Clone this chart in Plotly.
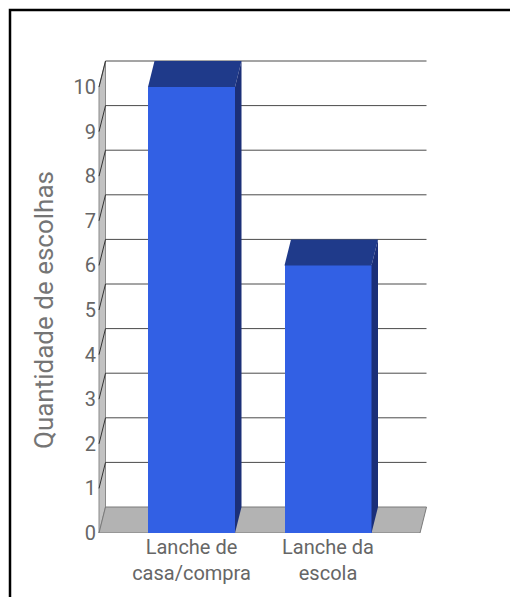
import plotly.graph_objects as go

# ---- data ----
categories = ["Lanche de<br>casa/compra", "Lanche da<br>escola"]
values = [10, 6]
y_ticks = list(range(0, 11))
y_title = "Quantidade de escolhas"

# ---- layout geometry ----
W_PX, H_PX = 510, 597
L, R, T, B = 97, 80, 50, 64
plot_w = W_PX - L - R
plot_h = H_PX - T - B
px_per_unit_y = 44.6
px_per_cat = 136.5
first_center_px = 191.5
y_range = [0, plot_h / px_per_unit_y]
x_min = -(first_center_px - L) / px_per_cat
x_range = [x_min, x_min + plot_w / px_per_cat]
dx = 6.5 / px_per_cat          # depth offset (x, category units)
dy = 26 / px_per_unit_y        # depth offset (y, value units)
bar_w = 87 / px_per_cat
front_left = x_min + 2 / px_per_cat
front_right = (420 - first_center_px) / px_per_cat

FRONT = "#3260E4"
TOP = "#1F3A8A"
SIDE = "#1B2F78"
FONT = "Roboto"

positions = list(range(len(categories)))
top_tick = max(y_ticks)

fig = go.Figure()

# front faces of bars
fig.add_trace(go.Bar(x=positions, y=values, width=bar_w,
                     marker=dict(color=FRONT, line=dict(width=0)),
                     hoverinfo="skip", showlegend=False))

# top and side faces
for p, v in zip(positions, values):
    xl, xr = p - bar_w / 2, p + bar_w / 2
    fig.add_trace(go.Scatter(
        x=[xl, xr, xr + dx, xl + dx, xl],
        y=[v, v, v + dy, v + dy, v],
        mode="lines", fill="toself", fillcolor=TOP,
        line=dict(width=0, color=TOP), hoverinfo="skip", showlegend=False))
    fig.add_trace(go.Scatter(
        x=[xr, xr + dx, xr + dx, xr, xr],
        y=[0, dy, v + dy, v, 0],
        mode="lines", fill="toself", fillcolor=SIDE,
        line=dict(width=0, color=SIDE), hoverinfo="skip", showlegend=False))

shapes = []
# left wall
shapes.append(dict(
    type="path", xref="x", yref="y", layer="below",
    path=(f"M {front_left},0 L {front_left},{top_tick} "
          f"L {front_left+dx},{top_tick+dy} L {front_left+dx},{dy} Z"),
    fillcolor="#c2c2c2", line=dict(color="#8a8a8a", width=1)))
# floor
shapes.append(dict(
    type="path", xref="x", yref="y", layer="below",
    path=(f"M {front_left},0 L {front_right},0 "
          f"L {front_right+dx},{dy} L {front_left+dx},{dy} Z"),
    fillcolor="#b3b3b3", line=dict(color="#7a7a7a", width=1)))
# back-wall gridlines and wall slants
for v in y_ticks[1:]:
    shapes.append(dict(type="line", xref="x", yref="y", layer="below",
                       x0=front_left + dx, x1=front_right + dx,
                       y0=v + dy, y1=v + dy,
                       line=dict(color="#4a4a4a", width=1)))
    shapes.append(dict(type="line", xref="x", yref="y", layer="below",
                       x0=front_left, x1=front_left + dx,
                       y0=v, y1=v + dy,
                       line=dict(color="#333333", width=1)))
# outer frame
shapes.append(dict(type="rect", xref="paper", yref="paper",
                   x0=(10 - L) / plot_w, x1=(530 - L) / plot_w,
                   y0=1 - (620 - T) / plot_h, y1=1 - (10 - T) / plot_h,
                   line=dict(color="black", width=2.5), fillcolor="rgba(0,0,0,0)"))

# y-axis title, centred on the value span of the axis
title_x_px = 44
title_y_val = top_tick / 2

fig.update_layout(
    width=W_PX, height=H_PX,
    margin=dict(l=L, r=R, t=T, b=B, pad=0),
    paper_bgcolor="white", plot_bgcolor="white",
    font=dict(family=FONT, color="#666666"),
    shapes=shapes,
    bargap=0,
    annotations=[dict(text=y_title, textangle=-90, showarrow=False,
                      xref="paper", yref="y",
                      x=(title_x_px - L) / plot_w, y=title_y_val,
                      xanchor="center", yanchor="middle",
                      font=dict(size=26, color="#757575", family=FONT))],
    xaxis=dict(range=x_range, tickvals=positions, ticktext=categories,
               showgrid=False, zeroline=False, showline=False, ticks="",
               tickfont=dict(size=20, color="#666666", family=FONT),
               fixedrange=True),
    yaxis=dict(range=y_range, tickvals=y_ticks,
               showgrid=False, zeroline=False, showline=False, ticks="",
               tickfont=dict(size=20, color="#666666", family=FONT),
               fixedrange=True),
)

fig.write_html("out.html")
